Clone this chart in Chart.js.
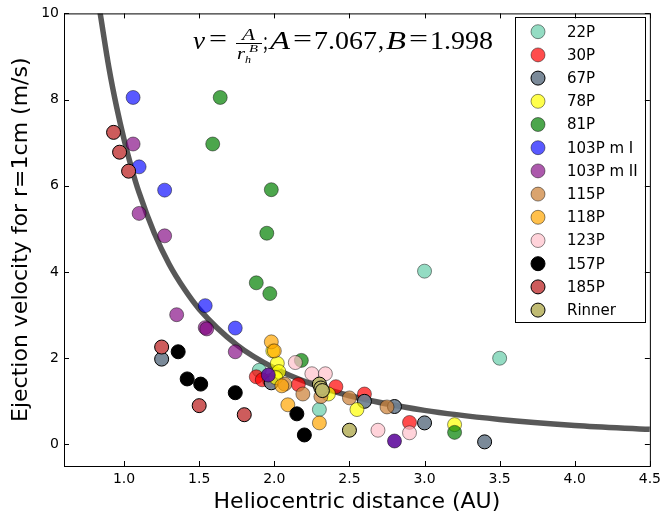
<!DOCTYPE html>
<html>
<head>
<meta charset="utf-8">
<script src="https://cdn.jsdelivr.net/npm/chart.js@4.4.1/dist/chart.umd.min.js"></script>
<style>
  html, body { margin:0; padding:0; background:#fff; }
  #wrap { width:666px; height:517px; position:relative; }
</style>
</head>
<body>
<div id="wrap"><canvas id="c" width="666" height="517"></canvas></div>
<script>
// =======================
// Data
// =======================
const seriesNames = ["22P","30P","67P","78P","81P","103P m I","103P m II","115P","118P","123P","157P","185P","Rinner"];

const p22  = [[1.90,1.72],[2.30,0.81],[3.00,4.02],[3.50,2.00]];
const p30  = [[1.88,1.57],[1.92,1.50],[1.97,1.48],[2.16,1.39],[2.41,1.34],[2.60,1.17],[2.90,0.51]];
const p67  = [[1.25,1.98],[1.98,1.43],[2.60,1.00],[2.80,0.88],[3.00,0.50],[3.40,0.06]];
const p78  = [[1.99,2.17],[2.02,1.88],[2.03,1.69],[2.01,1.55],[2.36,1.17],[2.55,0.81],[3.20,0.46]];
const p81  = [[1.64,8.05],[1.59,6.97],[1.98,5.91],[1.95,4.90],[1.88,3.75],[1.97,3.50],[2.18,1.95],[3.20,0.28]];
const p103a = [[1.06,8.05],[1.10,6.44],[1.27,5.90],[1.54,3.22],[1.74,2.70]];
const p103b = [[1.06,6.97],[1.10,5.36],[1.27,4.84],[1.35,3.01],[1.54,2.71],[1.55,2.68],[1.74,2.15]];
const p115 = [[2.07,1.40],[2.19,1.17],[2.31,1.11],[2.50,1.08],[2.75,0.87]];
const p118 = [[1.98,2.38],[2.00,2.17],[2.05,1.36],[2.09,0.92],[2.30,0.50]];
const p123 = [[2.14,1.90],[2.25,1.64],[2.34,1.64],[2.69,0.33],[2.90,0.27]];
const p157 = [[1.36,2.15],[1.42,1.52],[1.51,1.40],[1.74,1.20],[2.15,0.71],[2.20,0.22]];
const p185 = [[0.93,7.24],[0.97,6.78],[1.03,6.34],[1.25,2.26],[1.50,0.90],[1.80,0.69]];
const pRinner = [[2.30,1.40],[2.31,1.31],[2.32,1.25],[2.50,0.33]];
const pExtra = [[1.96,1.61],[2.80,0.08]];   // dark violet marks, not in legend

// fit curve v = A / r^B
const fitR = [0.84,0.90,0.95,1.00,1.05,1.10,1.20,1.30,1.40,1.50,1.75,2.00,2.25,2.50,3.00,3.50,4.00,4.50];
const fitV = [10.02,8.72,7.83,7.07,6.41,5.84,4.91,4.18,3.61,3.14,2.31,1.77,1.40,1.13,0.79,0.58,0.44,0.35];

const xTicks = [1.0,1.5,2.0,2.5,3.0,3.5,4.0,4.5];
const yTicks = [0,2,4,6,8,10];

// =======================
// Styles
// =======================
const fills = [
  "rgba(102,205,170,0.7)","rgba(255,0,0,0.7)","rgba(112,128,144,0.92)","rgba(255,255,0,0.7)",
  "rgba(0,128,0,0.7)","rgba(0,0,255,0.65)","rgba(128,0,128,0.65)","rgba(205,133,63,0.75)",
  "rgba(255,165,0,0.7)","rgba(255,192,203,0.7)","rgb(0,0,0)","rgb(205,92,92)","rgba(189,183,107,0.95)"
];
const edges = [
  "rgba(0,0,0,0.45)","rgba(0,0,0,0.45)","#000","rgba(0,0,0,0.45)","rgba(0,0,0,0.45)","rgba(0,0,0,0.45)",
  "rgba(0,0,0,0.45)","rgba(0,0,0,0.45)","rgba(0,0,0,0.45)","rgba(0,0,0,0.45)","#000","#000","#000"
];
const pointSets = [p22,p30,p67,p78,p81,p103a,p103b,p115,p118,p123,p157,p185,pRinner];

const toXY = arr => arr.map(p => ({x:p[0], y:p[1]}));

const datasets = [];
datasets.push({
  type:'line', label:'fit', data: fitR.map((r,i)=>({x:r, y:fitV[i]})),
  borderColor:'rgba(70,70,70,0.9)', borderWidth:5.5, pointRadius:0, fill:false,
  cubicInterpolationMode:'monotone', order:100
});
pointSets.forEach((pts,i) => {
  datasets.push({
    type:'scatter', label:seriesNames[i], data:toXY(pts),
    backgroundColor:fills[i], borderColor:edges[i], borderWidth:1,
    pointRadius:7, pointHoverRadius:7, order:50 - i
  });
});
datasets.push({
  type:'scatter', label:'', data:toXY(pExtra),
  backgroundColor:'rgba(100,20,160,0.92)', borderColor:'rgba(0,0,0,0.5)', borderWidth:1,
  pointRadius:7, order:1
});

// =======================
// Plugins: frame + inward ticks, legend box, formula
// =======================
const frameTicks = {
  id:'frameTicks',
  afterDraw(chart){
    const {ctx, chartArea:a, scales:{x, y}} = chart;
    ctx.save();
    ctx.strokeStyle = '#000';
    ctx.lineWidth = 1;
    ctx.strokeRect(a.left+0.5, a.top+0.5, a.right-a.left, a.bottom-a.top);
    ctx.beginPath();
    xTicks.forEach(v => {
      const px = Math.round(x.getPixelForValue(v)) + 0.5;
      ctx.moveTo(px, a.bottom); ctx.lineTo(px, a.bottom-5);
      ctx.moveTo(px, a.top); ctx.lineTo(px, a.top+5);
    });
    yTicks.forEach(v => {
      const py = Math.round(y.getPixelForValue(v)) + 0.5;
      ctx.moveTo(a.left, py); ctx.lineTo(a.left+5, py);
      ctx.moveTo(a.right, py); ctx.lineTo(a.right-5, py);
    });
    ctx.stroke();
    ctx.restore();
  }
};

const legendBox = {
  id:'legendBox',
  afterDatasetsDraw(chart){
    const ctx = chart.ctx;
    const bx = 515.5, by = 17.5, bw = 130, bh = 305;
    ctx.save();
    ctx.fillStyle = '#fff';
    ctx.fillRect(bx, by, bw, bh);
    ctx.strokeStyle = '#000';
    ctx.lineWidth = 1;
    ctx.strokeRect(bx, by, bw, bh);
    ctx.font = '15px "DejaVu Sans"';
    ctx.textBaseline = 'middle';
    seriesNames.forEach((name,i) => {
      const cy = 31.7 + i*23.2;
      ctx.beginPath();
      ctx.arc(538, cy, 7, 0, Math.PI*2);
      ctx.fillStyle = fills[i];
      ctx.fill();
      ctx.strokeStyle = edges[i];
      ctx.stroke();
      ctx.fillStyle = '#000';
      ctx.fillText(name, 567, cy + 1);
    });
    ctx.restore();
  }
};

// text fitted into [x0,x1] on a baseline
function boxText(ctx, t, x0, x1, yb, font){
  ctx.font = font;
  const w = ctx.measureText(t).width;
  ctx.save();
  ctx.translate(x0, yb);
  ctx.scale((x1 - x0) / w, 1);
  ctx.fillText(t, 0, 0);
  ctx.restore();
}

const formula = {
  id:'formula',
  afterDraw(chart){
    const ctx = chart.ctx;
    const it = s => `italic ${s}px "Liberation Serif"`;
    const up = s => `${s}px "Liberation Serif"`;
    ctx.save();
    ctx.fillStyle = '#000';
    ctx.textBaseline = 'alphabetic';
    ctx.textAlign = 'left';
    boxText(ctx, 'v', 193, 205, 49, it(25));
    boxText(ctx, '=', 209, 227, 47, up(25));
    boxText(ctx, 'A', 242, 255, 40, it(17));
    ctx.fillRect(236, 43, 26, 1);
    boxText(ctx, 'r', 237, 245, 59, it(17));
    boxText(ctx, 'h', 245, 251, 63, it(11));
    boxText(ctx, 'B', 249, 258, 52, it(11));
    boxText(ctx, ';', 263, 268, 49, up(25));
    boxText(ctx, 'A', 270, 290, 49, it(25));
    boxText(ctx, '=', 293, 312, 47, up(25));
    boxText(ctx, '7.067', 314, 377, 49, up(25));
    boxText(ctx, ',', 378, 384, 49, up(25));
    boxText(ctx, 'B', 386, 406, 49, it(25));
    boxText(ctx, '=', 409, 428, 47, up(25));
    boxText(ctx, '1.998', 430, 493, 49, up(25));
    ctx.restore();
  }
};

// =======================
// Chart
// =======================
new Chart(document.getElementById('c').getContext('2d'), {
  type:'scatter',
  data:{ datasets: datasets },
  options:{
    responsive:false,
    animation:false,
    events:[],
    layout:{ padding:{ left:0, right:6.9, top:2.6, bottom:0 } },
    plugins:{ legend:{ display:false }, tooltip:{ enabled:false } },
    scales:{
      x:{
        type:'linear', min:0.6, max:4.5,
        grid:{ display:false, drawTicks:false, tickLength:0 }, border:{ display:false },
        afterBuildTicks: s => { s.ticks = xTicks.map(v => ({value:v})); },
        afterFit: s => { s.height = 51; },
        ticks:{ color:'#000', padding:5, font:{ family:'DejaVu Sans', size:14 }, callback: v => v.toFixed(1) },
        title:{ display:true, text:'Heliocentric distance (AU)', color:'#000',
                font:{ family:'DejaVu Sans', size:22 }, padding:{ top:0, bottom:2 } }
      },
      y:{
        type:'linear', min:-0.5, max:10,
        grid:{ display:false, drawTicks:false, tickLength:0 }, border:{ display:false },
        afterBuildTicks: s => { s.ticks = yTicks.map(v => ({value:v})); },
        afterFit: s => { s.width = 64; },
        ticks:{ color:'#000', padding:5, font:{ family:'DejaVu Sans', size:14 } },
        title:{ display:true, text:'Ejection velocity for r=1cm (m/s)', color:'#000',
                font:{ family:'DejaVu Sans', size:22 }, padding:{ top:8, bottom:0 } }
      }
    }
  },
  plugins:[frameTicks, legendBox, formula]
});
</script>
</body>
</html>
